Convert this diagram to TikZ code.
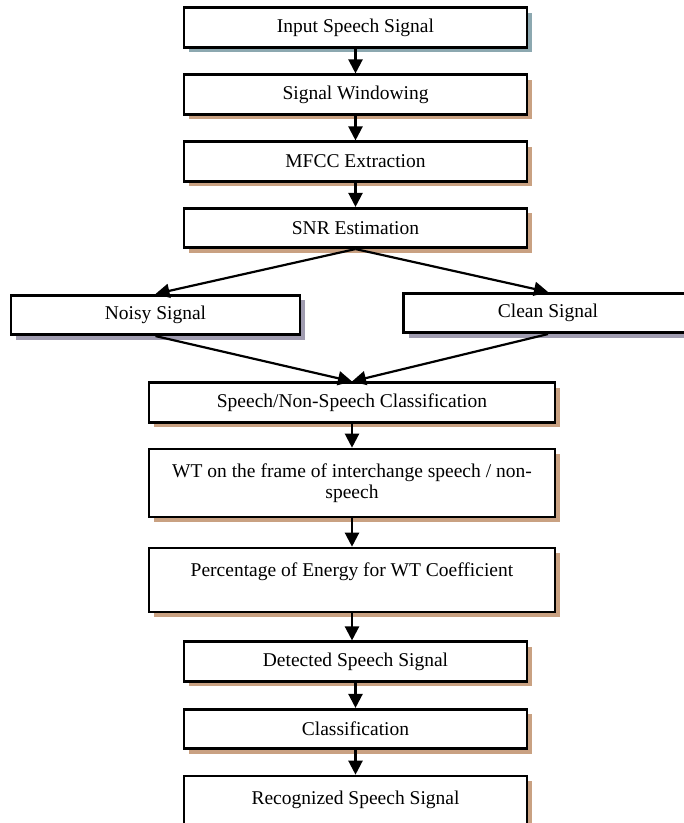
\documentclass[tikz,border=0pt]{standalone}
\usepackage{fontspec}
\setmainfont{Liberation Serif}
\usetikzlibrary{arrows.meta,shadows}

\definecolor{tanshade}{RGB}{201,161,130}
\definecolor{blueshade}{RGB}{140,168,176}
\definecolor{greyshade}{RGB}{160,156,176}

\tikzset{
    box/.style={draw, line width=1.3pt, fill=white, align=center, inner sep=0pt,
        minimum height=19.75pt},
    narrow/.style={box, minimum width=171.5pt},
    wide/.style={box, minimum width=203pt},
    side/.style={box, minimum width=144.5pt},
    tanshadow/.style={drop shadow={shadow xshift=2.5pt, shadow yshift=-2.5pt, fill=tanshade, opacity=1}},
    blueshadow/.style={drop shadow={shadow xshift=2.5pt, shadow yshift=-2.5pt, fill=blueshade, opacity=1}},
    greyshadow/.style={drop shadow={shadow xshift=2.5pt, shadow yshift=-2.5pt, fill=greyshade, opacity=1}},
    arr/.style={-{Triangle[length=7pt,width=7pt]}, line width=1.1pt}
}

\begin{document}
\begin{tikzpicture}[x=0.5pt, y=-0.5pt, font=\fontsize{9.75}{10.75}\selectfont]

    \useasboundingbox (0,0) rectangle (684,823);

    % Main chain (top)
    \node[narrow, blueshadow] (input) at (355.5,27.5) {Input Speech Signal};
    \node[narrow, tanshadow] (window) at (355.5,94.5) {Signal Windowing};
    \node[narrow, tanshadow] (mfcc) at (355.5,161.5) {MFCC Extraction};
    \node[narrow, tanshadow] (snr) at (355.5,228) {SNR Estimation};

    % Two branches
    \node[side, greyshadow] (noisy) at (155.5,315) {Noisy Signal};
    \node[side, greyshadow] (clean) at (548,313) {Clean Signal};

    % Wide boxes
    \node[wide, tanshadow] (speech) at (352,402.5) {Speech/Non-Speech Classification};
    \node[wide, tanshadow, minimum height=34pt] (wt) at (352,483)
        {WT on the frame of interchange speech / non-\\speech};
    \node[wide, tanshadow, minimum height=32pt] (energy) at (352,580)
        {Percentage of Energy for WT Coefficient\\~};

    % Main chain (bottom)
    \node[narrow, tanshadow] (detect) at (355.5,661.5) {Detected Speech Signal};
    \node[narrow, tanshadow] (classify) at (355.5,729) {Classification};
    \node[narrow, tanshadow, minimum height=32pt] (recog) at (355.5,808)
        {Recognized Speech Signal\\~};

    % Arrows
    \draw[arr] (input) -- (window);
    \draw[arr] (window) -- (mfcc);
    \draw[arr] (mfcc) -- (snr);
    \draw[arr] (snr.south) -- (noisy.north);
    \draw[arr] (snr.south) -- (clean.north);
    \draw[arr] (noisy.south) -- (speech.north);
    \draw[arr] (clean.south) -- (speech.north);
    \draw[arr] (speech) -- (wt);
    \draw[arr] (wt) -- (energy);
    \draw[arr] (energy.south) -- (energy.south |- detect.north);
    \draw[arr] (detect) -- (classify);
    \draw[arr] (classify) -- (recog);

\end{tikzpicture}
\end{document}
